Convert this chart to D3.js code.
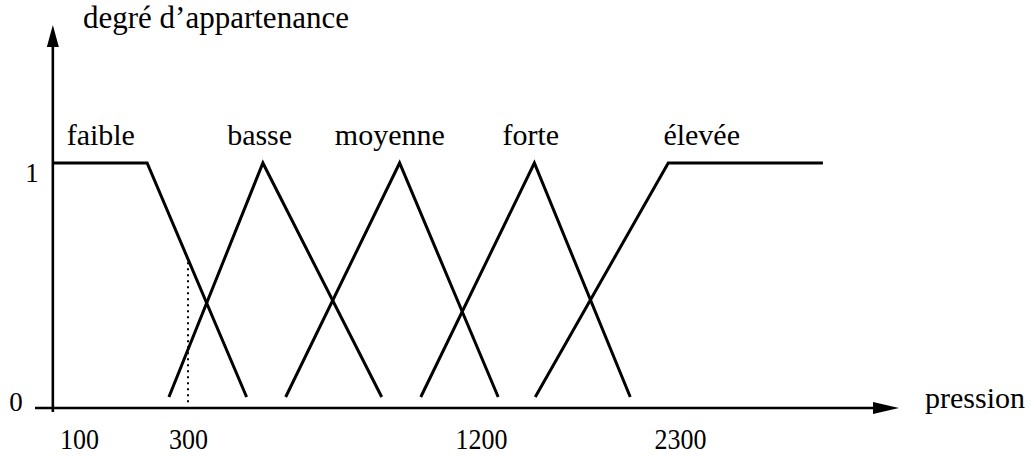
<!DOCTYPE html>
<html>
<head>
<meta charset="utf-8">
<script src="https://cdn.jsdelivr.net/npm/d3@7"></script>
<style>
  body { margin: 0; background: #fff; }
  text { font-family: "Liberation Serif", "Times New Roman", serif; fill: #000; }
</style>
</head>
<body>
<div id="chart"></div>
<script>
// pression tick labels (the axis is not uniform, so each label is a scale anchor)
const pressureTicks = [100, 300, 1200, 2300];
const degreeTicks = [0, 1];

// fuzzy sets: [pression, degré] break points
const setNames = ['faible', 'basse', 'moyenne', 'forte', 'élevée'];
const faible  = [[52, 1], [225, 1], [480, 0]];
const basse   = [[265, 0], [530, 1], [895, 0]];
const moyenne = [[600, 0], [950, 1], [1295, 0]];
const forte   = [[1015, 0], [1495, 1], [2025, 0]];
const elevee  = [[1500, 0], [2235, 1], [3090, 1]];
const setLabelAt = [140, 520, 920, 1475, 2420];

const markedPressure = 300;

const sets = [faible, basse, moyenne, forte, elevee];

const W = 1034, H = 456;
const svg = d3.select('#chart').append('svg').attr('width', W).attr('height', H);

// piecewise linear scale through the tick anchors
const x = d3.scaleLinear().domain(pressureTicks).range([79, 188, 481, 680]);
const y = d3.scaleLinear().domain([0, 1]).range([397, 163]);

const axisY = 408, axisX = x(52);

// axes
svg.append('line').attr('x1', 35).attr('x2', 876).attr('y1', axisY).attr('y2', axisY)
  .style('stroke', '#000').style('stroke-width', 2.6);
svg.append('line').attr('x1', axisX).attr('x2', axisX).attr('y1', 412).attr('y2', 44)
  .style('stroke', '#000').style('stroke-width', 2.6);
svg.append('path').attr('d', `M${axisX},25 L${axisX - 6},47 L${axisX + 6},47 Z`).style('fill', '#000');
svg.append('path').attr('d', `M899,${axisY} L873,${axisY - 6} L873,${axisY + 6} Z`).style('fill', '#000');

// tick labels from the scale
const xAxis = d3.axisBottom(x).tickValues(pressureTicks).tickSize(0).tickFormat(d3.format('d'));
const gx = svg.append('g').attr('transform', `translate(0,${axisY})`).call(xAxis);
gx.select('.domain').remove();
gx.selectAll('text').attr('y', 0).attr('dy', 0)
  .attr('transform', 'translate(0,41) scale(1,1.12)')
  .style('font-size', '26px').style('font-family', '"Liberation Serif", serif').style('fill', '#000');

svg.selectAll('.ylab').data(degreeTicks).enter().append('text').attr('class', 'ylab')
  .attr('x', d => d ? 32 : 16).attr('y', d => d ? y(d) + 19 : axisY + 3)
  .attr('text-anchor', 'middle').style('font-size', '27px').text(d => d);

svg.append('text').attr('x', 83).attr('y', 28).style('font-size', '31px').text('degré d’appartenance');
svg.append('text').attr('x', 925).attr('y', 408).style('font-size', '30px').text('pression');

// membership functions
const line = d3.line().x(d => x(d[0])).y(d => y(d[1]));
svg.selectAll('.set').data(sets).enter().append('path').attr('class', 'set')
  .attr('d', line).style('fill', 'none').style('stroke', '#000')
  .style('stroke-width', 3).style('stroke-linejoin', 'miter');

svg.selectAll('.set-label').data(setNames).enter().append('text').attr('class', 'set-label')
  .attr('x', (d, i) => x(setLabelAt[i])).attr('y', 145)
  .attr('text-anchor', 'middle').style('font-size', '30px').text(d => d);

// dotted marker: degree of "faible" at the marked pressure, in drawn (pixel) space
const px = x(markedPressure);
const a = faible[1], b = faible[2];
const t = (px - x(a[0])) / (x(b[0]) - x(a[0]));
const mu = a[1] + t * (b[1] - a[1]);
svg.append('line').attr('x1', px).attr('x2', px).attr('y1', y(mu) + 3).attr('y2', y(0) + 6)
  .style('stroke', '#000').style('stroke-width', 2).style('stroke-dasharray', '2,4');
</script>
</body>
</html>
